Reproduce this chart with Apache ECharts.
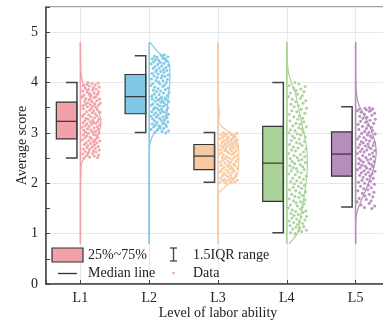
<!DOCTYPE html>
<html><head><meta charset="utf-8">
<script src="https://cdn.jsdelivr.net/npm/echarts@6/dist/echarts.min.js"></script>
<style>html,body{margin:0;padding:0;background:#fff}#c{width:383px;height:322px}</style>
</head><body><div id="c"></div>
<script>
// ---------- data ----------
const categories = ['L1', 'L2', 'L3', 'L4', 'L5'];
const groupColors = ['#F0A1A9', '#7FC9E6', '#F7C9A1', '#AAD39A', '#B68EBC'];

const q1 = [2.88, 3.38, 2.27, 1.64, 2.14];
const median = [3.23, 3.72, 2.54, 2.40, 2.58];
const q3 = [3.61, 4.16, 2.77, 3.13, 3.02];
const whiskerLow = [2.50, 3.01, 2.02, 1.02, 1.53];
const whiskerHigh = [4.00, 4.53, 3.01, 4.00, 3.52];

const densityGrid = [0.8,1.0,1.2,1.4,1.6,1.8,2.0,2.2,2.4,2.6,2.8,3.0,3.2,3.4,3.6,3.8,4.0,4.2,4.4,4.6,4.8];
const densityL1 = [0,0,0,0,0,0,0.01,0.02,0.06,0.35,0.68,0.9,1.0,0.9,0.62,0.35,0.12,0.03,0.01,0,0];
const densityL2 = [0,0,0,0,0,0,0,0,0.01,0.01,0.04,0.25,0.7,0.86,0.9,0.95,1.0,1.0,0.95,0.45,0.04];
const densityL3 = [0,0,0,0,0,0.02,0.55,0.95,1.0,1.0,0.95,0.55,0.05,0.07,0.02,0,0,0,0,0,0];
const densityL4 = [0.1,0.5,0.62,0.7,0.78,0.86,0.93,0.98,1.0,0.98,0.92,0.83,0.72,0.62,0.52,0.4,0.22,0.08,0.03,0.01,0];
const densityL5 = [0,0,0,0.05,0.22,0.42,0.62,0.8,0.93,1.0,0.95,0.8,0.6,0.35,0.12,0.04,0.01,0,0,0,0];
const densities = [densityL1, densityL2, densityL3, densityL4, densityL5];

const pointsL1 = [2.50,2.51,2.52,2.54,2.55,2.56,2.58,2.59,2.60,2.62,2.63,2.64,2.66,2.67,2.68,2.69,2.71,2.72,2.73,2.75,2.76,2.77,2.79,2.80,2.81,2.83,2.84,2.85,2.86,2.87,
  2.89,2.90,2.91,2.92,2.94,2.95,2.96,2.97,2.99,3.00,3.01,3.02,3.03,3.05,3.06,3.07,3.08,3.10,3.11,3.12,3.13,3.14,3.16,3.17,3.18,3.19,3.20,3.21,3.22,3.23,
  3.24,3.25,3.27,3.28,3.29,3.30,3.32,3.33,3.34,3.36,3.37,3.38,3.40,3.41,3.42,3.44,3.45,3.46,3.48,3.49,3.50,3.52,3.53,3.54,3.55,3.56,3.57,3.58,3.59,3.60,
  3.62,3.63,3.64,3.66,3.67,3.68,3.70,3.71,3.72,3.74,3.75,3.77,3.78,3.79,3.81,3.82,3.83,3.85,3.86,3.87,3.89,3.90,3.91,3.93,3.94,3.95,3.96,3.98,3.99,4.00];
const pointsL2 = [3.00,3.01,3.03,3.04,3.06,3.07,3.09,3.10,3.12,3.13,3.14,3.16,3.17,3.18,3.20,3.21,3.22,3.24,3.25,3.26,3.28,3.29,3.30,3.31,3.32,3.33,3.34,3.35,3.36,3.37,
  3.39,3.40,3.41,3.42,3.43,3.45,3.46,3.47,3.48,3.49,3.50,3.51,3.53,3.54,3.55,3.56,3.57,3.58,3.60,3.61,3.62,3.63,3.64,3.65,3.66,3.67,3.68,3.69,3.70,3.71,
  3.73,3.74,3.76,3.77,3.79,3.80,3.82,3.83,3.85,3.86,3.88,3.89,3.91,3.92,3.94,3.95,3.97,3.98,4.00,4.01,4.03,4.04,4.06,4.07,4.09,4.10,4.12,4.13,4.14,4.15,
  4.17,4.18,4.20,4.21,4.22,4.24,4.25,4.26,4.28,4.29,4.30,4.32,4.33,4.34,4.36,4.37,4.38,4.40,4.41,4.42,4.44,4.45,4.46,4.47,4.48,4.50,4.51,4.52,4.54,4.55];
const pointsL3 = [2.00,2.01,2.02,2.03,2.04,2.05,2.06,2.07,2.08,2.09,2.10,2.11,2.13,2.14,2.15,2.16,2.17,2.18,2.20,2.21,2.22,2.23,2.24,2.26,
  2.27,2.28,2.29,2.30,2.31,2.33,2.34,2.35,2.36,2.37,2.38,2.40,2.41,2.42,2.43,2.44,2.46,2.47,2.48,2.49,2.50,2.51,2.52,2.53,
  2.55,2.56,2.57,2.58,2.59,2.60,2.61,2.62,2.63,2.64,2.65,2.66,2.67,2.68,2.69,2.70,2.71,2.72,2.73,2.74,2.75,2.75,2.76,2.77,
  2.78,2.79,2.80,2.81,2.82,2.83,2.84,2.85,2.86,2.87,2.88,2.89,2.90,2.91,2.92,2.93,2.94,2.95,2.96,2.97,2.98,2.99,3.00,3.00];
const pointsL4 = [1.00,1.02,1.04,1.06,1.07,1.09,1.11,1.13,1.14,1.16,1.18,1.20,1.22,1.24,1.25,1.27,1.29,1.31,1.33,1.34,1.36,1.38,1.40,1.42,1.44,1.45,1.47,1.49,1.51,1.53,1.55,1.57,1.59,1.61,1.63,
  1.65,1.67,1.69,1.72,1.74,1.76,1.78,1.81,1.83,1.85,1.87,1.90,1.92,1.94,1.96,1.99,2.01,2.03,2.05,2.08,2.10,2.12,2.14,2.17,2.19,2.21,2.23,2.25,2.27,2.29,2.31,2.33,2.35,2.37,2.39,
  2.41,2.43,2.45,2.47,2.49,2.51,2.53,2.55,2.57,2.59,2.62,2.64,2.66,2.68,2.70,2.72,2.75,2.77,2.79,2.81,2.83,2.85,2.88,2.90,2.92,2.94,2.96,2.98,3.00,3.02,3.04,3.06,3.08,3.10,3.12,
  3.14,3.17,3.19,3.22,3.24,3.27,3.29,3.32,3.34,3.37,3.39,3.42,3.44,3.47,3.49,3.52,3.54,3.57,3.59,3.62,3.64,3.67,3.69,3.72,3.74,3.77,3.79,3.82,3.84,3.87,3.89,3.92,3.94,3.97,4.00];
const pointsL5 = [1.50,1.52,1.55,1.57,1.60,1.63,1.65,1.68,1.70,1.73,1.75,1.78,1.80,1.82,1.85,1.87,1.89,1.91,1.94,1.96,1.98,2.00,2.02,2.04,2.06,2.08,2.10,2.12,
  2.15,2.16,2.18,2.19,2.21,2.22,2.24,2.25,2.27,2.28,2.30,2.31,2.33,2.34,2.36,2.37,2.39,2.40,2.42,2.43,2.45,2.46,2.48,2.49,2.51,2.53,2.55,2.57,
  2.59,2.60,2.62,2.63,2.65,2.66,2.68,2.69,2.71,2.72,2.74,2.75,2.77,2.78,2.80,2.81,2.83,2.84,2.86,2.88,2.90,2.91,2.93,2.94,2.96,2.98,2.99,3.01,
  3.03,3.05,3.07,3.09,3.11,3.13,3.15,3.17,3.19,3.21,3.23,3.25,3.27,3.29,3.31,3.33,3.35,3.37,3.39,3.41,3.43,3.44,3.45,3.46,3.47,3.48,3.49,3.50];
const points = [pointsL1, pointsL2, pointsL3, pointsL4, pointsL5];

const jitter = [0.12,0.85,0.43,0.67,0.29,0.91,0.05,0.58,0.36,0.77,0.19,0.62,0.94,0.41,0.08,0.73,0.27,0.55,0.88,0.33,
  0.69,0.14,0.47,0.82,0.24,0.61,0.97,0.38,0.03,0.71,0.52,0.17,0.86,0.44,0.26,0.79,0.09,0.65,0.35,0.93,
  0.21,0.57,0.74,0.11,0.48,0.89,0.31,0.66,0.02,0.83,0.39,0.18,0.96,0.53,0.28,0.75,0.07,0.63,0.45,0.87,
  0.16,0.59,0.34,0.92,0.23,0.68,0.49,0.04,0.81,0.37,0.13,0.72,0.56,0.98,0.25,0.64,0.42,0.84,0.10,0.51,
  0.78,0.30,0.60,0.06,0.90,0.46,0.20,0.70,0.99,0.32,0.54,0.15,0.80,0.40,0.95,0.22,0.66,0.01,0.76,0.50];

const legendLabels = ['25%~75%', '1.5IQR range', 'Median line', 'Data'];
const xAxisTitle = 'Level of labor ability';
const yAxisTitle = 'Average score';

// ---------- styling constants ----------
const FONT = '"Liberation Serif", "Times New Roman", serif';
const BOX_R = -0.05, BOX_W = 0.3, CAP = 0.16, VIOLIN_W = 0.3;
const AXIS_C = '#444';

const chart = echarts.init(document.getElementById('c'), null, {renderer: 'canvas'});

const boxSeries = {
  type: 'custom',
  z: 5,
  data: categories.map((c, i) => [i + 1, q1[i], median[i], q3[i], whiskerLow[i], whiskerHigh[i]]),
  renderItem: function (params, api) {
    const x = api.value(0), a = api.value(1), m = api.value(2), b = api.value(3), lo = api.value(4), hi = api.value(5);
    const i = params.dataIndex;
    const tl = api.coord([x + BOX_R - BOX_W, b]);
    const br = api.coord([x + BOX_R, a]);
    const ml = api.coord([x + BOX_R - BOX_W, m]);
    const mr = api.coord([x + BOX_R, m]);
    const br1 = [
      api.coord([x + BOX_R - CAP, hi]), api.coord([x + BOX_R, hi]),
      api.coord([x + BOX_R, lo]), api.coord([x + BOX_R - CAP, lo])
    ];
    return {
      type: 'group',
      children: [
        {type: 'rect', shape: {x: tl[0], y: tl[1], width: br[0] - tl[0], height: br[1] - tl[1]},
          style: {fill: groupColors[i], stroke: '#333', lineWidth: 1.2}},
        {type: 'line', shape: {x1: ml[0], y1: ml[1], x2: mr[0], y2: mr[1]}, style: {stroke: '#333', lineWidth: 1.2}},
        {type: 'polyline', shape: {points: br1}, style: {stroke: AXIS_C, lineWidth: 1.5, fill: null}}
      ]
    };
  }
};

const violinSeries = {
  type: 'custom',
  z: 3,
  data: categories.map((c, i) => [i + 1]),
  renderItem: function (params, api) {
    const i = params.dataIndex;
    const x = api.value(0);
    const d = densities[i];
    const curve = densityGrid.map((s, k) => api.coord([x + d[k] * VIOLIN_W, s]));
    const top = api.coord([x, densityGrid[densityGrid.length - 1]]);
    const bot = api.coord([x, densityGrid[0]]);
    return {
      type: 'group',
      children: [
        {type: 'polyline', shape: {points: curve, smooth: 0.35}, style: {stroke: groupColors[i], lineWidth: 1.2, fill: null}},
        {type: 'line', shape: {x1: top[0], y1: top[1], x2: bot[0], y2: bot[1]}, style: {stroke: groupColors[i], lineWidth: 1.6}}
      ]
    };
  }
};

const scatterSeries = points.map((arr, i) => ({
  type: 'scatter',
  z: 4,
  symbolSize: 3.1,
  itemStyle: {color: groupColors[i], opacity: 0.95},
  data: arr.map((s, k) => [i + 1 + 0.02 + jitter[(k + 23 * i) % jitter.length] * 0.27, s])
}));

const txt = (t, x, y) => ({type: 'text', x: x, y: y, z: 100,
  style: {text: t, font: '14px ' + FONT, fill: '#222', verticalAlign: 'middle', align: 'left'}});

chart.setOption({
  animation: false,
  grid: {left: 46, right: -7, top: 7, bottom: 38, show: true, borderColor: AXIS_C, borderWidth: 1.2,
    outerBoundsMode: 'none', containLabel: false},
  xAxis: {
    type: 'value', min: 0.5, max: 5.5, splitNumber: 5,
    axisLine: {show: true, lineStyle: {color: AXIS_C, width: 1.5}},
    axisTick: {show: true, inside: true, length: 4, lineStyle: {color: AXIS_C}},
    axisLabel: {formatter: v => (Number.isInteger(v) && v >= 1 && v <= 5) ? categories[v - 1] : '',
      fontFamily: FONT, fontSize: 14, color: '#222', margin: 7},
    splitLine: {show: true, lineStyle: {color: '#e8e8e8', width: 1}},
    name: xAxisTitle, nameLocation: 'middle', nameGap: 22, nameMoveOverlap: false,
    nameTextStyle: {fontFamily: FONT, fontSize: 14, color: '#222'}
  },
  yAxis: {
    type: 'value', min: 0, max: 5.5, interval: 1,
    axisLine: {show: true, lineStyle: {color: AXIS_C, width: 1.5}},
    axisTick: {show: true, inside: true, length: 4, lineStyle: {color: AXIS_C}},
    minorTick: {show: true, splitNumber: 2, length: 4, lineStyle: {color: AXIS_C}},
    axisLabel: {formatter: v => Number.isInteger(v) ? String(v) : '', fontFamily: FONT, fontSize: 14, color: '#222', margin: 8},
    splitLine: {show: true, lineStyle: {color: '#e8e8e8', width: 1}},
    name: yAxisTitle, nameLocation: 'middle', nameGap: 17, nameMoveOverlap: false,
    nameTextStyle: {fontFamily: FONT, fontSize: 14, color: '#222'}
  },
  series: [violinSeries].concat(scatterSeries).concat([boxSeries]),
  graphic: [
    {type: 'rect', z: 100, shape: {x: 52, y: 248, width: 31, height: 14}, style: {fill: groupColors[0], stroke: '#333', lineWidth: 1.2}},
    txt(legendLabels[0], 88, 255),
    {type: 'line', z: 100, shape: {x1: 173.5, y1: 248, x2: 173.5, y2: 261}, style: {stroke: AXIS_C, lineWidth: 1.3}},
    {type: 'line', z: 100, shape: {x1: 170, y1: 248, x2: 177, y2: 248}, style: {stroke: AXIS_C, lineWidth: 1.3}},
    {type: 'line', z: 100, shape: {x1: 170, y1: 261, x2: 177, y2: 261}, style: {stroke: AXIS_C, lineWidth: 1.3}},
    txt(legendLabels[1], 193, 255),
    {type: 'line', z: 100, shape: {x1: 58, y1: 273.5, x2: 77, y2: 273.5}, style: {stroke: '#333', lineWidth: 1.3}},
    txt(legendLabels[2], 88, 273),
    {type: 'circle', z: 100, shape: {cx: 173.5, cy: 273, r: 1.3}, style: {fill: groupColors[0]}},
    txt(legendLabels[3], 193, 273)
  ]
});
</script></body></html>
